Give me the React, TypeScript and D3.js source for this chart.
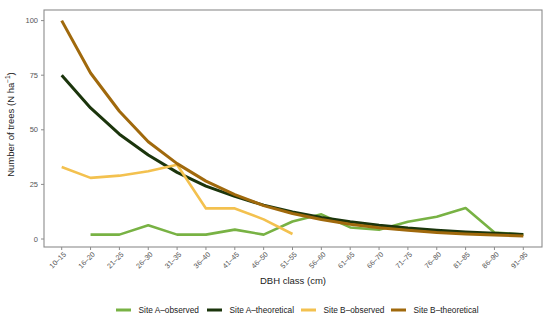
import React from "react";
import * as d3 from "d3";

const categories = ["10–15","16–20","21–25","26–30","31–35","36–40","41–45","46–50","51–55","56–60","61–65","66–70","71–75","76–80","81–85","86–90","91–95"];
const siteAObserved: (number | null)[] = [null, 2, 2, 6.3, 2, 2, 4.3, 2, 8, 11.3, 5.3, 4.2, 7.9, 10.2, 14.2, 3, 2];
const siteATheoretical: number[] = [75, 60, 48, 38.5, 30.5, 24.2, 19.5, 15.5, 12.4, 9.9, 7.9, 6.3, 5, 4, 3.2, 2.6, 2.1];
const siteBObserved: (number | null)[] = [33, 28, 29, 31, 34, 14, 14, 9, 2.3, null, null, null, null, null, null, null, null];
const siteBTheoretical: number[] = [100, 76, 58.5, 44.5, 34.5, 26.5, 20.3, 15.3, 11.7, 8.9, 6.8, 5.2, 4, 3, 2.3, 1.8, 1.4];
const yTicks = [0, 25, 50, 75, 100];

const series = [
  { name: "Site A–observed", values: siteAObserved, color: "#78b244", width: 2.6 },
  { name: "Site A–theoretical", values: siteATheoretical, color: "#1b350c", width: 3 },
  { name: "Site B–observed", values: siteBObserved, color: "#f3c14f", width: 2.6 },
  { name: "Site B–theoretical", values: siteBTheoretical, color: "#a0690c", width: 3 },
];

export default function App() {
  const W = 550, H = 322;
  const left = 44, right = 542, top = 10, bottom = 247;
  const x = d3.scalePoint<string>().domain(categories).range([61.7, 523.3]);
  const y = d3.scaleLinear().domain([0, 100]).range([239, 20.6]);
  const line = d3.line<number | null>()
    .defined((d) => d !== null)
    .x((_, i) => x(categories[i]) as number)
    .y((d) => y(d as number));
  const legendX = [116, 207, 301, 391];
  const font = "Liberation Sans, Arial, sans-serif";
  return (
    <svg width={W} height={H} style={{ position: "absolute", left: 0, top: 0, background: "#fff" }} fontFamily={font}>
      {series.map((s) => (
        <path key={s.name} d={line(s.values as (number | null)[]) || ""} fill="none" stroke={s.color} strokeWidth={s.width} strokeLinejoin="round" />
      ))}
      <rect x={left} y={top} width={right - left} height={bottom - top} fill="none" stroke="#8c8c8c" strokeWidth={1.1} />
      {yTicks.map((t) => (
        <g key={t}>
          <line x1={left - 3} x2={left} y1={y(t)} y2={y(t)} stroke="#8c8c8c" strokeWidth={1} />
          <text x={left - 6} y={y(t)} dy="0.35em" textAnchor="end" fontSize={7.5} fill="#555">{t}</text>
        </g>
      ))}
      {categories.map((c) => {
        const cx = x(c) as number;
        return (
          <g key={c}>
            <line x1={cx} x2={cx} y1={bottom} y2={bottom + 3} stroke="#8c8c8c" strokeWidth={1} />
            <text transform={`translate(${cx + 3},${bottom + 6}) rotate(-45)`} textAnchor="end" dy="0.35em" fontSize={7.2} fill="#555">{c}</text>
          </g>
        );
      })}
      <text x={293} y={284} textAnchor="middle" fontSize={9.5} fill="#222">DBH class (cm)</text>
      <text transform={`translate(14,${(top + bottom) / 2 - 4}) rotate(-90)`} textAnchor="middle" fontSize={9.5} fill="#222">
        Number of trees (N ha<tspan dy="-4" fontSize={6.5}>−1</tspan><tspan dy="4">)</tspan>
      </text>
      {series.map((s, i) => (
        <g key={s.name}>
          <line x1={legendX[i]} x2={legendX[i] + 15} y1={310} y2={310} stroke={s.color} strokeWidth={3} />
          <text x={legendX[i] + 22.5} y={310} dy="0.35em" fontSize={8.3} fill="#222">{s.name}</text>
        </g>
      ))}
    </svg>
  );
}
